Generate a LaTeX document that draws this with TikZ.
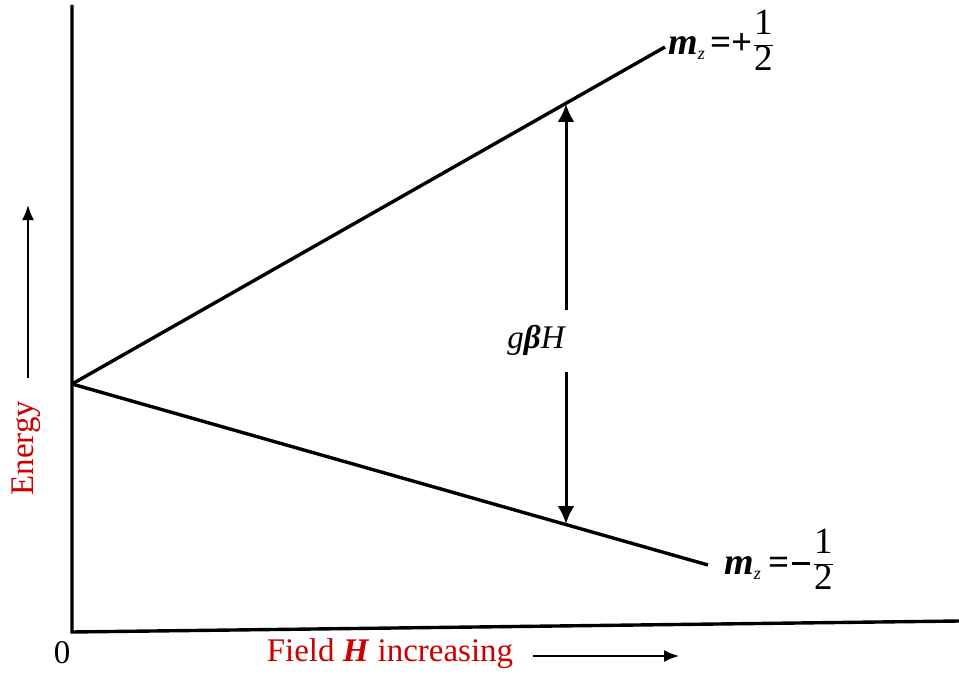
\documentclass[tikz,border=0pt]{standalone}
\usepackage{fontspec}
\setmainfont{Liberation Serif}
\usetikzlibrary{arrows.meta}
\definecolor{labelred}{RGB}{204,0,0}
\tikzset{
  axisline/.style={line width=3.4pt},
  level/.style={line width=3.4pt},
  gap/.style={line width=3pt, -{Latex[length=18pt,width=17pt]}},
  hint/.style={line width=2pt, -{Latex[length=15pt,width=12pt]}},
  redlabel/.style={text=labelred, inner sep=0pt}
}
\newcommand{\lvlfont}{\fontsize{33}{38}\selectfont}
\newcommand{\mzsub}{{\fontsize{38}{40}\selectfont\textbf{\textit{m}}}\raisebox{-5pt}{\fontsize{18}{20}\selectfont\itshape z}}
\newcommand{\half}{\raisebox{4pt}{$\displaystyle\frac{\mbox{1}}{\mbox{2}}$}}
\begin{document}
\begin{tikzpicture}[x=1pt, y=-1pt]
  \useasboundingbox (0,0) rectangle (959,674);

  % Axes
  \coordinate (top) at (72,5);
  \coordinate (origin) at (72,632);
  \coordinate (right) at (959,621);
  \draw[axisline] (top) -- (origin) -- (right);
  \node[anchor=base, inner sep=0pt] (zero) at (62,663) {\lvlfont 0};

  % Zeeman levels
  \coordinate (apex) at (72,384);
  \coordinate (upend) at (665,47);
  \coordinate (lowend) at (708,565);
  \draw[level] (apex) -- (upend);
  \draw[level] (apex) -- (lowend);

  % Level labels
  \node[anchor=base west, inner sep=0pt] (mup) at (668,55)
    {\fontsize{37}{40}\selectfont\mzsub\hspace{6pt}\textbf{=}\textbf{+}\half};
  \node[anchor=base west, inner sep=0pt] (mdown) at (724,574)
    {\fontsize{37}{40}\selectfont\mzsub\hspace{8pt}\textbf{=}\hspace{2pt}\rule[9pt]{18pt}{2.6pt}\hspace{3pt}\half};

  % Splitting g beta H
  \coordinate (gtop) at (566,104);
  \coordinate (gbot) at (566,524);
  \node[inner sep=6pt] (split) at (536,340) {\lvlfont\itshape g\textbf{β}H};
  \draw[gap] (566,310) -- (gtop);
  \draw[gap] (566,372) -- (gbot);

  % Axis labels
  \node[redlabel, rotate=90] (energy) at (26,448) {\lvlfont Energy};
  \coordinate (etail) at (28,378);
  \coordinate (ehead) at (28,205);
  \draw[hint] (etail) -- (ehead);

  \node[redlabel, anchor=base] (field) at (390,661) {\lvlfont Field \textbf{\textit{H}} increasing};
  \coordinate (ftail) at (533,656);
  \coordinate (fhead) at (679,656);
  \draw[hint] (ftail) -- (fhead);
\end{tikzpicture}
\end{document}
